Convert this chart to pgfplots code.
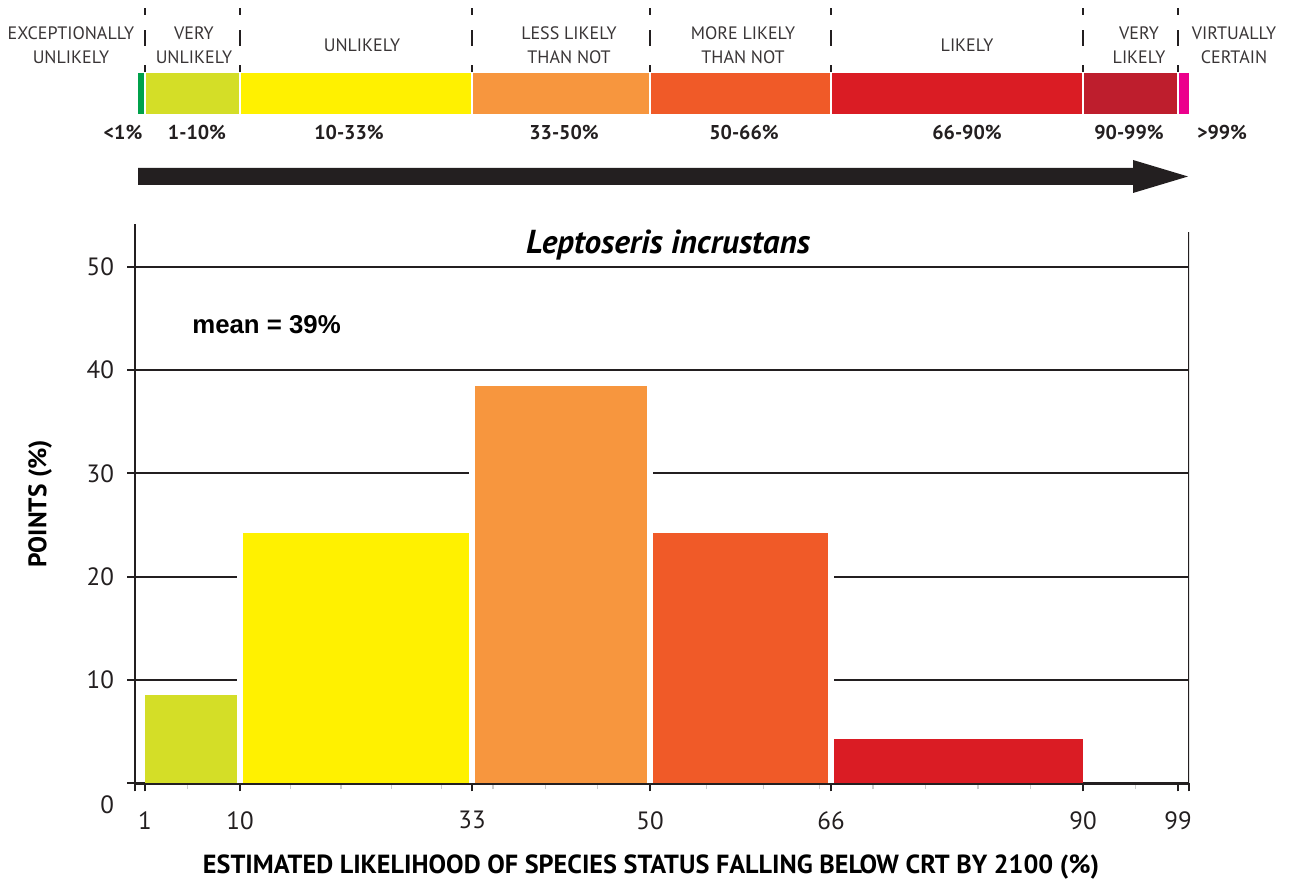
\documentclass[border=0pt]{standalone}
\usepackage{fontspec}
\setmainfont{PT Sans}
\newfontfamily\arialfont{Liberation Sans}
\usepackage{pgfplots}
\pgfplotsset{compat=1.18}

\definecolor{ink}{HTML}{231F20}
\definecolor{cgreen}{HTML}{00A14B}
\definecolor{cyg}{HTML}{D4DE27}
\definecolor{cyel}{HTML}{FFF100}
\definecolor{clor}{HTML}{F7963E}
\definecolor{cor}{HTML}{F05A28}
\definecolor{cred}{HTML}{DA1C24}
\definecolor{cdred}{HTML}{BE1E2D}
\definecolor{cmag}{HTML}{EC008C}

\pgfplotsset{
  layers/barsbelow/.define layer set={axis background,axis grid,main,axis ticks,axis lines,axis tick labels,axis descriptions,axis foreground}{},
  % the printed scale is not quite linear: piecewise map through the tick positions
  likelihood x/.style={
    x filter/.expression={min(x,1)+1.0556*max(0,min(x,10)-1)+1.0087*max(0,min(x,33)-10)+1.0471*max(0,min(x,50)-33)+1.1313*max(0,min(x,66)-50)+1.05*max(0,min(x,90)-66)+1.0556*max(0,min(x,99)-90)+1.1*max(0,x-99)},
    xmin=0, xmax=105.4,
  },
}

\begin{document}
\begin{tikzpicture}

% likelihood scale bar
\begin{axis}[
    likelihood x,
    at={(67.5pt,385pt)}, anchor=south west,
    scale only axis, width=527pt, height=20.5pt,
    ymin=0, ymax=1,
    hide axis, clip=false,
]
\addplot[fill=cgreen, draw=none] coordinates {(0.3,1) (1,1)} \closedcycle;
\addplot[fill=cyg, draw=none] coordinates {(1,1) (10,1)} \closedcycle;
\addplot[fill=cyel, draw=none] coordinates {(10,1) (33,1)} \closedcycle;
\addplot[fill=clor, draw=none] coordinates {(33,1) (50,1)} \closedcycle;
\addplot[fill=cor, draw=none] coordinates {(50,1) (66,1)} \closedcycle;
\addplot[fill=cred, draw=none] coordinates {(66,1) (90,1)} \closedcycle;
\addplot[fill=cdred, draw=none] coordinates {(90,1) (99,1)} \closedcycle;
\addplot[fill=cmag, draw=none] coordinates {(99,1) (100,1)} \closedcycle;
\pgfplotsinvokeforeach{1,10,33,50,66,90,99}{
  \addplot[draw=white, line width=1pt] coordinates {(#1,0) (#1,1)};
  \addplot[draw=ink, line width=1.3pt,
    dash pattern=on 3.5pt off 7.5pt on 8pt off 9.5pt on 3.5pt off 10pt]
    coordinates {(#1,2.585) (#1,1)};
}
\end{axis}

\fill[ink] (69pt,349.5pt) -- (566.5pt,349.5pt) -- (566.5pt,345.5pt) -- (594pt,353.75pt)
  -- (566.5pt,362pt) -- (566.5pt,358pt) -- (69pt,358pt) -- cycle;

\begin{scope}[every node/.style={font=\fontsize{9}{12}\selectfont, text=ink!90, align=center}]
\node at (35.5pt,419.5pt) {EXCEPTIONALLY\\UNLIKELY};
\node at (97pt,419.5pt) {VERY\\UNLIKELY};
\node at (181pt,419.5pt) {UNLIKELY};
\node at (284.5pt,419.5pt) {LESS LIKELY\\THAN NOT};
\node at (371.5pt,419.5pt) {MORE LIKELY\\THAN NOT};
\node at (483.5pt,419.5pt) {LIKELY};
\node at (569.5pt,419.5pt) {VERY\\LIKELY};
\node at (617pt,419.5pt) {VIRTUALLY\\CERTAIN};
\end{scope}
\begin{scope}[every node/.style={font=\bfseries\fontsize{10}{12}\selectfont, text=ink}]
\node at (61.5pt,375.5pt) {<1\%};
\node at (98.5pt,375.5pt) {1-10\%};
\node at (174.5pt,375.5pt) {10-33\%};
\node at (282pt,375.5pt) {33-50\%};
\node at (372pt,375.5pt) {50-66\%};
\node at (483.5pt,375.5pt) {66-90\%};
\node at (564.5pt,375.5pt) {90-99\%};
\node at (611pt,375.5pt) {>99\%};
\end{scope}

% histogram
\begin{axis}[
    set layers=barsbelow,
    likelihood x,
    at={(67.5pt,50.35pt)}, anchor=south west,
    scale only axis, width=527pt, height=279.65pt,
    ymin=0, ymax=54.14,
    axis x line*=bottom, axis y line*=left,
    axis line style={-, line width=1.2pt, ink},
    % tick positions on the mapped scale (1,10,33,50,66,90,99)
    xtick={0,1,10.5,33.7,51.5,69.6,94.8,104.3,105.4},
    xticklabels={,1,10,33,50,66,90,99,},
    minor xtick={5.22,15.54,20.59,25.63,30.67,35.79,41.03,46.26,57.16,62.81,68.47,73.8,79.05,84.3,89.55,100.08},
    ytick={10,20,30,40,50},
    extra y ticks={0}, extra y tick labels={0},
    extra y tick style={yticklabel style={yshift=-10.9pt}},
    tick align=outside,
    major tick length=4pt, minor tick length=3pt,
    every major tick/.append style={line width=1pt, ink},
    every minor tick/.append style={line width=0.6pt, black!20},
    ymajorgrids, major grid style={line width=1pt, ink},
    /pgf/number format/assume math mode=true,
    tick label style={font=\fontsize{12.5}{14}\selectfont, text=ink},
    xticklabel style={yshift=-6.5pt},
    yticklabel style={xshift=-3pt},
    every axis title shift=0pt,
    title={Leptoseris incrustans},
    title style={at={(axis description cs:0.5057,0.948)}, anchor=base,
      font=\bfseries\itshape\fontsize{16.6}{18}\selectfont},
    xlabel={ESTIMATED LIKELIHOOD OF SPECIES STATUS FALLING BELOW CRT BY 2100 (\%)},
    xlabel style={at={(axis description cs:0.4896,-0.1502)}, anchor=center,
      font=\bfseries\fontsize{13.1}{15}\selectfont},
    ylabel={POINTS (\%)},
    ylabel style={at={(axis description cs:-0.0901,0.5)}, anchor=center,
      font=\bfseries\fontsize{12.7}{14}\selectfont},
]
\addplot[fill=cyg, draw=none] coordinates {(1,8.5) (10,8.5)} \closedcycle;
\addplot[fill=cyel, draw=none] coordinates {(10,24.2) (33,24.2)} \closedcycle;
\addplot[fill=clor, draw=none] coordinates {(33,38.5) (50,38.5)} \closedcycle;
\addplot[fill=cor, draw=none] coordinates {(50,24.2) (66,24.2)} \closedcycle;
\addplot[fill=cred, draw=none] coordinates {(66,4.3) (90,4.3)} \closedcycle;
% white gaps between neighbouring bars
\addplot[draw=white, line width=3pt] coordinates {(10,0) (10,24.2)};
\addplot[draw=white, line width=3pt] coordinates {(33,0) (33,38.5)};
\addplot[draw=white, line width=3pt] coordinates {(50,0) (50,38.5)};
\addplot[draw=white, line width=3pt] coordinates {(66,0) (66,24.2)};
\draw[line width=1.2pt, ink] (rel axis cs:1,0) -- (rel axis cs:1,0.986);
\node[anchor=base west, inner sep=0pt, font=\arialfont\bfseries\fontsize{12.9}{14}\selectfont]
  at (axis description cs:0.054,0.805) {mean = 39\%};
\end{axis}

\pgfresetboundingbox
\path[use as bounding box] (0,0) rectangle (644.5pt,442pt);
\end{tikzpicture}
\end{document}
